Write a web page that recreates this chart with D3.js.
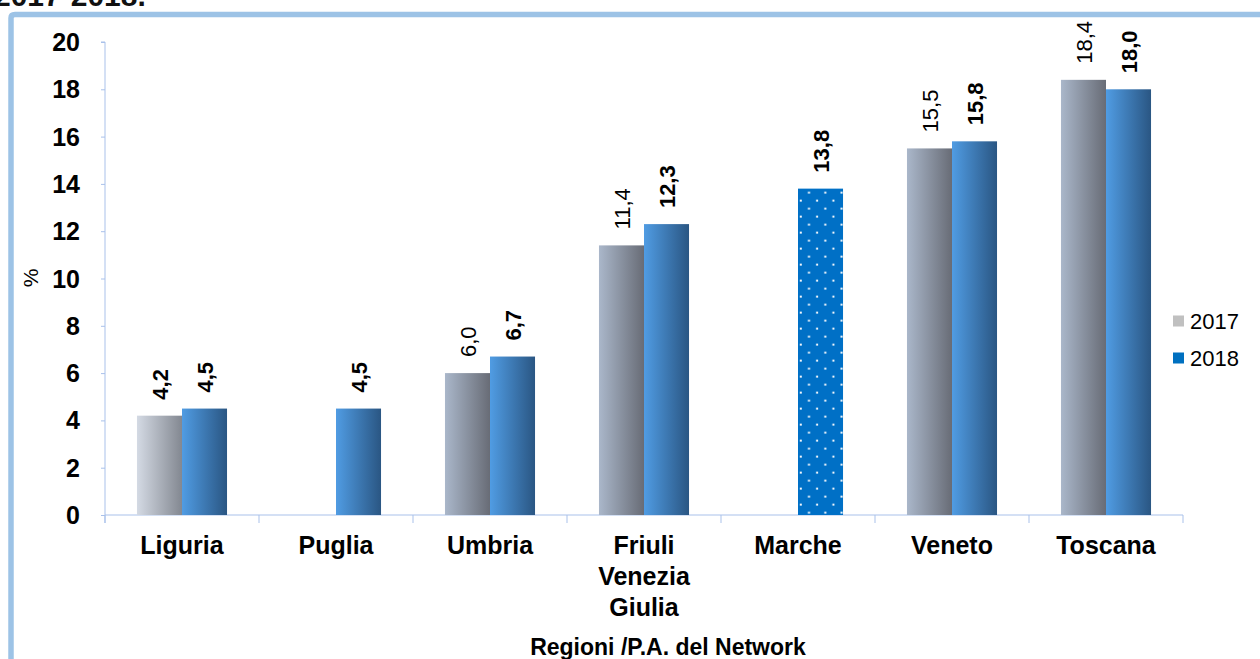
<!DOCTYPE html>
<html>
<head>
<meta charset="utf-8">
<script src="https://cdn.jsdelivr.net/npm/d3@7"></script>
<style>
  html, body { margin: 0; padding: 0; background: #fff; }
  svg { display: block; font-family: "Liberation Sans", Arial, sans-serif; }
</style>
</head>
<body>
<svg id="chart" width="1260" height="659"></svg>
<script>
// Regions and yearly values (%)
const regions = ["Liguria", "Puglia", "Umbria", "Friuli\nVenezia\nGiulia", "Marche", "Veneto", "Toscana"];
const values2017 = [4.2, null, 6.0, 11.4, null, 15.5, 18.4];
const values2018 = [4.5, 4.5, 6.7, 12.3, 13.8, 15.8, 18.0];
const years = ["2017", "2018"];
const yTicks = [0, 2, 4, 6, 8, 10, 12, 14, 16, 18, 20];

const svg = d3.select("#chart");
const fmt = v => v.toFixed(1).replace(".", ",");

const plotLeft = 105, plotRight = 1183, plotTop = 42, plotBottom = 515;

const x = d3.scaleBand().domain(regions).range([plotLeft, plotRight]).paddingInner(0).paddingOuter(0);
const xs = d3.scaleBand().domain(years).range([0, x.bandwidth()]).paddingInner(0).paddingOuter(0.71);
const y = d3.scaleLinear().domain([0, 20]).range([plotBottom, plotTop]);

const defs = svg.append("defs");
function hGrad(id, c0, c1) {
  const g = defs.append("linearGradient").attr("id", id).attr("x1", 0).attr("x2", 1).attr("y1", 0).attr("y2", 0);
  g.append("stop").attr("offset", 0).attr("stop-color", c0);
  g.append("stop").attr("offset", 1).attr("stop-color", c1);
}
hGrad("g2017", "#aab7ca", "#686c76");
hGrad("g2017light", "#d4dae4", "#838891");
hGrad("g2018", "#509ce3", "#2a5683");

// Frame
svg.append("path")
  .attr("d", "M11,659 V18 Q11,14.5 15,14.5 H1260")
  .attr("fill", "none").attr("stroke", "#9dc3e6").attr("stroke-width", 5.5);

// Title fragment at the top edge
svg.append("text").attr("x", -6).attr("y", 6)
  .attr("font-size", 30).attr("font-weight", "bold").attr("fill", "#111")
  .text("2017-2018.");

// Axes
const axisColor = "#a9c1ea";
const yAxis = svg.append("g").attr("transform", `translate(${plotLeft},0)`)
  .call(d3.axisLeft(y).tickValues(yTicks).tickSize(4).tickFormat(""));
yAxis.select(".domain").attr("stroke", axisColor).attr("d", `M-4,${plotTop}H0V${plotBottom + 8}`);
yAxis.selectAll(".tick line").attr("stroke", axisColor);

svg.append("g").selectAll("text").data(yTicks).join("text")
  .attr("x", 80).attr("y", d => y(d)).attr("dy", "0.36em")
  .attr("text-anchor", "end").attr("font-size", 25).attr("font-weight", "bold")
  .text(d => d);

const xAxis = svg.append("g").attr("transform", `translate(0,${plotBottom})`)
  .call(d3.axisBottom(x).tickSize(0).tickFormat(""));
xAxis.select(".domain").attr("stroke", axisColor).attr("d", `M${plotLeft},0H${plotRight}`);
svg.append("g").selectAll("line").data(d3.range(regions.length + 1)).join("line")
  .attr("x1", i => plotLeft + i * x.bandwidth()).attr("x2", i => plotLeft + i * x.bandwidth())
  .attr("y1", plotBottom).attr("y2", plotBottom + 8).attr("stroke", axisColor);

// Dotted pattern for the Marche bar
const mx = x("Marche") + xs("2018");
const my = y(values2018[4]);
const pat = defs.append("pattern").attr("id", "dots")
  .attr("patternUnits", "userSpaceOnUse").attr("x", mx).attr("y", my)
  .attr("width", 16.3).attr("height", 16);
pat.append("rect").attr("width", 16.3).attr("height", 16).attr("fill", "#0070c6");
pat.append("rect").attr("x", 10).attr("y", 3).attr("width", 2).attr("height", 2).attr("fill", "#f4f8fc");
pat.append("rect").attr("x", 1.8).attr("y", 11).attr("width", 2).attr("height", 2).attr("fill", "#f4f8fc");

// Bars
const rows = [];
regions.forEach((r, i) => {
  if (values2017[i] != null) rows.push({ region: r, year: "2017", v: values2017[i], i });
  if (values2018[i] != null) rows.push({ region: r, year: "2018", v: values2018[i], i });
});
function fillFor(d) {
  if (d.year === "2017") return d.i === 0 ? "url(#g2017light)" : "url(#g2017)";
  return d.region === "Marche" ? "url(#dots)" : "url(#g2018)";
}
svg.append("g").selectAll("rect").data(rows).join("rect")
  .attr("x", d => x(d.region) + xs(d.year))
  .attr("y", d => y(d.v))
  .attr("width", xs.bandwidth())
  .attr("height", d => y(0) - y(d.v))
  .attr("fill", fillFor);

// Value labels (rotated)
svg.append("g").selectAll("text").data(rows).join("text")
  .attr("transform", d => `translate(${x(d.region) + xs(d.year) + xs.bandwidth() / 2 + 1},${y(d.v) - 16}) rotate(-90)`)
  .attr("dy", "0.36em").attr("font-size", 22)
  .attr("font-weight", d => (d.year === "2018" || d.i === 0) ? "bold" : "normal")
  .text(d => fmt(d.v));

// Category labels
const catG = svg.append("g");
regions.forEach(r => {
  const t = catG.append("text").attr("x", x(r) + x.bandwidth() / 2).attr("y", 554)
    .attr("text-anchor", "middle").attr("font-size", 25).attr("font-weight", "bold");
  r.split("\n").forEach((line, k) => {
    t.append("tspan").attr("x", x(r) + x.bandwidth() / 2).attr("dy", k === 0 ? 0 : 31).text(line);
  });
});

// Axis titles
svg.append("text").attr("x", 668).attr("y", 655).attr("text-anchor", "middle")
  .attr("font-size", 23).attr("font-weight", "bold").text("Regioni /P.A. del Network");
svg.append("text").attr("transform", "translate(30,278) rotate(-90)")
  .attr("dy", "0.36em").attr("text-anchor", "middle").attr("font-size", 21).text("%");

// Legend
const legend = svg.append("g");
const legendItems = [{ k: "2017", c: "#c0c0c0", yy: 321 }, { k: "2018", c: "#0070c0", yy: 358 }];
legend.selectAll("rect").data(legendItems).join("rect")
  .attr("x", 1173).attr("y", d => d.yy - 5.5).attr("width", 11).attr("height", 11).attr("fill", d => d.c);
legend.selectAll("text").data(legendItems).join("text")
  .attr("x", 1190).attr("y", d => d.yy).attr("dy", "0.36em").attr("font-size", 22).text(d => d.k);
</script>
</body>
</html>
